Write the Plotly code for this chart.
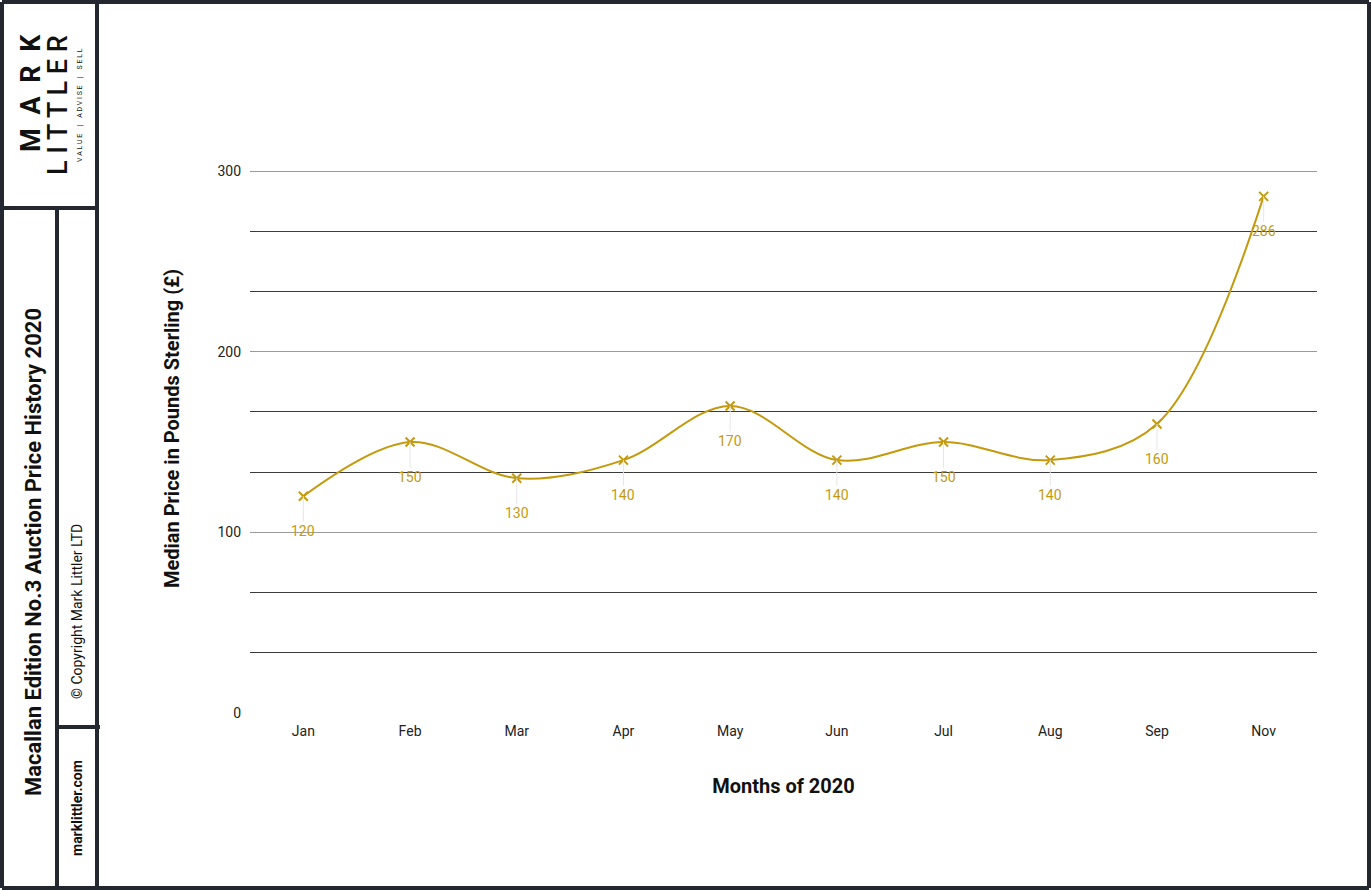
import plotly.graph_objects as go

months = ["Jan", "Feb", "Mar", "Apr", "May", "Jun", "Jul", "Aug", "Sep", "Nov"]
prices = [120, 150, 130, 140, 170, 140, 150, 140, 160, 286]

GOLD = "#C49A0C"
DARK = "#23272F"
W, H = 1371, 890
L, R, T, B = 250, 54, 144, 177


def px(x):
    return (x - L) / (W - L - R)


def py(y):
    return (H - B - y) / (H - T - B)


def spaced(s, gap=" "):
    return gap.join(s)


fig = go.Figure()
fig.add_trace(go.Scatter(
    x=months, y=prices, mode="lines+markers",
    line=dict(color=GOLD, width=2, shape="spline", smoothing=1),
    marker=dict(symbol="x-thin", size=9, line=dict(color=GOLD, width=2)),
    hoverinfo="x+y", showlegend=False,
))

for m, p in zip(months, prices):
    fig.add_annotation(x=m, y=p, text=str(p), showarrow=True, arrowhead=0,
                       arrowcolor="#e6e6e6", arrowwidth=1, ax=0, ay=35,
                       font=dict(color=GOLD, size=14, family="Roboto"))

shapes = []
# outer frame and panels
frame = dict(type="line", xref="paper", yref="paper",
             line=dict(color=DARK, width=4))
for x0, y0, x1, y1 in [
    (2, 2, W - 2, 2), (2, H - 2, W - 2, H - 2), (2, 2, 2, H - 2),
    (W - 2, 2, W - 2, H - 2), (97, 2, 97, H - 2), (2, 208, 97, 208),
    (57, 208, 57, H - 2), (57, 727, 100, 727),
]:
    shapes.append(dict(frame, x0=px(x0), y0=py(y0), x1=px(x1), y1=py(y1)))
fig.update_layout(shapes=shapes)

tag = "\u2002\u2002|\u2002\u2002".join(spaced(w, " ") for w in ["VALUE", "ADVISE", "SELL"])
side = [
    ("<b>" + spaced("MARK", "\u2002") + "</b>", 31, 93, 27),
    ("<span style='font-weight:500'>" + spaced("LITTLER", " ") + "</span>", 58, 105, 27),
    (tag, 80, 105, 7),
    ("<b>Macallan Edition No.3 Auction Price History 2020</b>", 33, 552, 22),
    ("© Copyright Mark Littler LTD", 77, 612, 14),
    ("<b>marklittler.com</b>", 77, 808, 14),
]
for text, x, y, size in side:
    fig.add_annotation(xref="paper", yref="paper", x=px(x), y=py(y),
                       xanchor="center", yanchor="middle",
                       text=text, textangle=-90,
                       showarrow=False, font=dict(size=size, color="#111", family="Roboto"))

fig.update_layout(
    autosize=True,
    margin=dict(l=L, r=R, t=T, b=B),
    paper_bgcolor="white", plot_bgcolor="white",
    font=dict(family="Roboto", color="#222"),
    xaxis=dict(
        title=dict(text="<b>Months of 2020</b>", font=dict(size=20, color="#111"), standoff=40),
        showgrid=False, showline=False, ticks="", tickfont=dict(size=14),
        ticklabelstandoff=8, range=[-0.5, 9.5],
    ),
    yaxis=dict(
        title=dict(text="<b>Median Price in Pounds Sterling (£)</b>", font=dict(size=20, color="#111"), standoff=32),
        range=[0, 315], tickvals=[0, 100, 200, 300], showline=False, zeroline=False,
        gridcolor="#9a9a9a", tickfont=dict(size=14), ticklabelstandoff=8,
        minor=dict(tickvals=[100 / 3, 200 / 3, 400 / 3, 500 / 3, 700 / 3, 800 / 3],
                   showgrid=True, gridcolor="#3a3a3a", gridwidth=1),
    ),
)

fig.write_html(
    "out.html", default_width="100vw", default_height="100vh",
    config={"responsive": True, "displayModeBar": False},
    post_script="document.body.style.margin='0';document.body.style.overflow='hidden';"
                "Plotly.Plots.resize(document.getElementById('{plot_id}'));",
)
